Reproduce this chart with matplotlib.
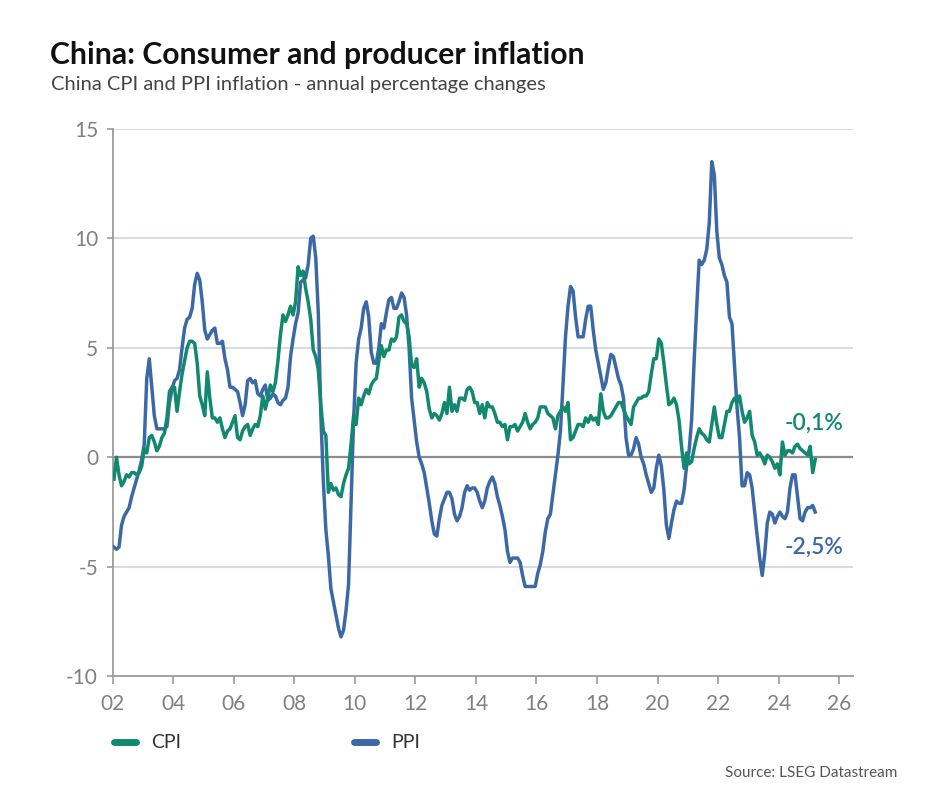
import matplotlib
matplotlib.use("Agg")
import matplotlib.pyplot as plt
from matplotlib import font_manager
from matplotlib.lines import Line2D
import numpy as np

# ---------------- data ----------------
start_year = 2002
series_names = ["CPI", "PPI"]

cpi = [
    -1.0, 0.0, -0.8, -1.3, -1.1, -0.8, -0.9, -0.7, -0.7, -0.8, -0.7, -0.4,   # 2002
    0.4, 0.2, 0.9, 1.0, 0.7, 0.3, 0.5, 0.9, 1.1, 1.8, 3.0, 3.2,              # 2003
    3.2, 2.1, 3.0, 3.8, 4.4, 5.0, 5.3, 5.3, 5.2, 4.3, 2.8, 2.4,              # 2004
    1.9, 3.9, 2.7, 1.8, 1.8, 1.6, 1.8, 1.3, 0.9, 1.2, 1.3, 1.6,              # 2005
    1.9, 0.9, 0.8, 1.2, 1.4, 1.5, 1.0, 1.3, 1.5, 1.4, 1.9, 2.8,              # 2006
    2.2, 2.7, 3.3, 3.0, 3.4, 4.4, 5.6, 6.5, 6.2, 6.5, 6.9, 6.5,              # 2007
    7.1, 8.7, 8.3, 8.5, 7.7, 7.1, 6.3, 4.9, 4.6, 4.0, 2.4, 1.2,              # 2008
    1.0, -1.6, -1.2, -1.5, -1.4, -1.7, -1.8, -1.2, -0.8, -0.5, 0.6, 1.9,     # 2009
    1.5, 2.7, 2.4, 2.8, 3.1, 2.9, 3.3, 3.5, 3.6, 4.4, 5.1, 4.6,              # 2010
    4.9, 4.9, 5.4, 5.3, 5.5, 6.4, 6.5, 6.2, 6.1, 5.5, 4.2, 4.1,              # 2011
    4.5, 3.2, 3.6, 3.4, 3.0, 2.2, 1.8, 2.0, 1.9, 1.7, 2.0, 2.5,              # 2012
    2.0, 3.2, 2.1, 2.4, 2.1, 2.7, 2.7, 2.6, 3.1, 3.2, 3.0, 2.5,              # 2013
    2.5, 2.0, 2.4, 1.8, 2.5, 2.3, 2.3, 2.0, 1.6, 1.6, 1.4, 1.5,              # 2014
    0.8, 1.4, 1.4, 1.5, 1.2, 1.4, 1.6, 2.0, 1.6, 1.3, 1.5, 1.6,              # 2015
    1.8, 2.3, 2.3, 2.3, 2.0, 1.9, 1.8, 1.3, 1.9, 2.1, 2.3, 2.1,              # 2016
    2.5, 0.8, 0.9, 1.2, 1.5, 1.5, 1.4, 1.8, 1.6, 1.9, 1.7, 1.8,              # 2017
    1.5, 2.9, 2.1, 1.8, 1.8, 1.9, 2.1, 2.3, 2.5, 2.5, 2.2, 1.9,              # 2018
    1.7, 1.5, 2.3, 2.5, 2.7, 2.7, 2.8, 2.8, 3.0, 3.8, 4.5, 4.5,              # 2019
    5.4, 5.2, 4.3, 3.3, 2.4, 2.5, 2.7, 2.4, 1.7, 0.5, -0.5, 0.2,             # 2020
    -0.3, -0.2, 0.4, 0.9, 1.3, 1.1, 1.0, 0.8, 0.7, 1.5, 2.3, 1.5,            # 2021
    0.9, 0.9, 1.5, 2.1, 2.1, 2.5, 2.7, 2.5, 2.8, 2.1, 1.6, 1.8,              # 2022
    2.1, 1.0, 0.7, 0.1, 0.2, 0.0, -0.3, 0.1, 0.0, -0.2, -0.5, -0.3,          # 2023
    -0.8, 0.7, 0.1, 0.3, 0.3, 0.2, 0.5, 0.6, 0.4, 0.3, 0.2, 0.1,             # 2024
    0.5, -0.7, -0.1,                                                         # 2025
]

ppi = [
    -4.1, -4.2, -4.1, -3.1, -2.7, -2.5, -2.3, -1.8, -1.4, -1.0, -0.6, -0.1,  # 2002
    0.6, 3.6, 4.5, 3.2, 1.9, 1.3, 1.3, 1.3, 1.3, 1.4, 2.5, 3.1,              # 2003
    3.5, 3.6, 4.0, 5.0, 5.9, 6.3, 6.4, 6.8, 7.9, 8.4, 8.1, 7.1,              # 2004
    5.8, 5.4, 5.6, 5.8, 5.9, 5.2, 5.2, 5.3, 4.5, 4.0, 3.2, 3.2,              # 2005
    3.1, 3.0, 2.5, 1.9, 2.4, 3.5, 3.6, 3.4, 3.5, 2.9, 2.8, 3.1,              # 2006
    3.3, 2.6, 2.7, 2.9, 2.8, 2.5, 2.4, 2.6, 2.7, 3.2, 4.6, 5.4,              # 2007
    6.1, 6.6, 8.0, 8.1, 8.2, 8.8, 10.0, 10.1, 9.1, 6.6, 2.0, -1.1,           # 2008
    -3.3, -4.5, -6.0, -6.6, -7.2, -7.8, -8.2, -7.9, -7.0, -5.8, -2.1, 1.7,   # 2009
    4.3, 5.4, 5.9, 6.8, 7.1, 6.4, 4.8, 4.3, 4.3, 5.0, 6.1, 5.9,              # 2010
    6.6, 7.2, 7.3, 6.8, 6.8, 7.1, 7.5, 7.3, 6.5, 5.0, 2.7, 1.7,              # 2011
    0.7, 0.0, -0.3, -0.7, -1.4, -2.1, -2.9, -3.5, -3.6, -2.8, -2.2, -1.9,    # 2012
    -1.6, -1.6, -1.9, -2.6, -2.9, -2.7, -2.3, -1.6, -1.3, -1.5, -1.4, -1.4,  # 2013
    -1.6, -2.0, -2.3, -2.0, -1.4, -1.1, -0.9, -1.2, -1.8, -2.2, -2.7, -3.3,  # 2014
    -4.3, -4.8, -4.6, -4.6, -4.6, -4.8, -5.4, -5.9, -5.9, -5.9, -5.9, -5.9,  # 2015
    -5.3, -4.9, -4.3, -3.4, -2.8, -2.6, -1.7, -0.8, 0.1, 1.2, 3.3, 5.5,      # 2016
    6.9, 7.8, 7.6, 6.4, 5.5, 5.5, 5.5, 6.3, 6.9, 6.9, 5.8, 4.9,              # 2017
    4.3, 3.7, 3.1, 3.4, 4.1, 4.7, 4.6, 4.1, 3.6, 3.3, 2.7, 0.9,              # 2018
    0.1, 0.1, 0.4, 0.9, 0.6, 0.0, -0.3, -0.8, -1.2, -1.6, -1.4, -0.5,        # 2019
    0.1, -0.4, -1.5, -3.1, -3.7, -3.0, -2.4, -2.0, -2.1, -2.1, -1.5, -0.4,   # 2020
    0.3, 1.7, 4.4, 6.8, 9.0, 8.8, 9.0, 9.5, 10.7, 13.5, 12.9, 10.3,          # 2021
    9.1, 8.8, 8.3, 8.0, 6.4, 6.1, 4.2, 2.3, 0.9, -1.3, -1.3, -0.7,           # 2022
    -0.8, -1.4, -2.5, -3.6, -4.6, -5.4, -4.4, -3.0, -2.5, -2.6, -3.0, -2.7,  # 2023
    -2.5, -2.7, -2.8, -2.5, -1.4, -0.8, -0.8, -1.8, -2.8, -2.9, -2.5, -2.3,  # 2024
    -2.3, -2.2, -2.5,                                                        # 2025
]

x_ticks = list(range(2002, 2027, 2))
x_tick_labels = ["02", "04", "06", "08", "10", "12", "14", "16", "18", "20", "22", "24", "26"]
y_ticks = [-10, -5, 0, 5, 10, 15]
y_tick_labels = ["-10", "-5", "0", "5", "10", "15"]
end_labels = ["-0,1%", "-2,5%"]

title = "China: Consumer and producer inflation"
subtitle = "China CPI and PPI inflation - annual percentage changes"
source = "Source: LSEG Datastream"

# ---------------- style ----------------
available = {f.name for f in font_manager.fontManager.ttflist}
def pick(*names):
    for n in names:
        if n in available:
            return n
    return "DejaVu Sans"

F_TITLE = pick("Lato", "Open Sans", "DejaVu Sans")
F_TEXT = pick("Lato", "Open Sans", "DejaVu Sans")
F_TICK = pick("Liberation Sans Narrow", "Lato", "Open Sans", "DejaVu Sans")

C_CPI = "#10896f"
C_PPI = "#3c69a6"
C_GRID = "#cfd5de"
C_AXIS = "#9b9b9b"
C_ZERO = "#8c8c8c"
C_TICK = "#808080"

W, H = 925, 800
fig = plt.figure(figsize=(W / 100, H / 100), dpi=100)
fig.patch.set_facecolor("white")

ax_l, ax_r, ax_t, ax_b = 112.7, 853.0, 128.8, 676.3
ax = fig.add_axes([ax_l / W, 1 - ax_b / H, (ax_r - ax_l) / W, (ax_b - ax_t) / H])

x = start_year + (np.arange(len(cpi)) + 0.5) / 12.0
x_ppi = start_year + (np.arange(len(ppi)) + 0.5) / 12.0

ax.set_xlim(2002, 2002 + (ax_r - ax_l) / 30.27)
ax.set_ylim(-10, 15)

for v in y_ticks:
    if v not in (0, -10):
        ax.axhline(v, color=C_GRID, lw=1.2, zorder=1)
ax.axhline(0, color=C_ZERO, lw=1.6, zorder=2)

ax.plot(x, cpi, color=C_CPI, lw=2.5, zorder=4, solid_joinstyle="round", label=series_names[0])
ax.plot(x_ppi, ppi, color=C_PPI, lw=2.5, zorder=3, solid_joinstyle="round", label=series_names[1])

for s in ("top", "right"):
    ax.spines[s].set_visible(False)
for s in ("left", "bottom"):
    ax.spines[s].set_color(C_AXIS)
    ax.spines[s].set_linewidth(1.3)

ax.set_xticks(x_ticks)
ax.set_xticklabels(x_tick_labels)
ax.set_yticks(y_ticks)
ax.set_yticklabels(y_tick_labels)
ax.tick_params(axis="x", direction="out", length=5.5, width=1.2, color=C_AXIS,
               pad=7, labelsize=15, labelcolor=C_TICK)
ax.tick_params(axis="y", direction="out", length=4.5, width=1.2, color=C_AXIS,
               pad=6, labelsize=15, labelcolor=C_TICK)
for lab in ax.get_xticklabels() + ax.get_yticklabels():
    lab.set_fontfamily(F_TICK)

# end labels
ax.text(2024.2, 1.55, end_labels[0], color=C_CPI, fontsize=16.5, fontfamily=F_TEXT,
        ha="left", va="center", fontweight="semibold")
ax.text(2024.2, -4.1, end_labels[1], color=C_PPI, fontsize=16.5, fontfamily=F_TEXT,
        ha="left", va="center", fontweight="semibold")

# legend
h1 = Line2D([], [], color=C_CPI, lw=5, solid_capstyle="round")
h2 = Line2D([], [], color=C_PPI, lw=5, solid_capstyle="round")
leg = fig.legend([h1, h2], series_names, loc="center left",
                 bbox_to_anchor=(114 / W, 1 - 743 / H), ncol=2, frameon=False,
                 borderpad=0, borderaxespad=0,
                 handlelength=1.15, handletextpad=0.75, columnspacing=8.9,
                 prop={"family": F_TICK, "size": 14})
for t in leg.get_texts():
    t.set_color("#333333")

# title & subtitle
t1 = fig.text(50 / W, 1 - 64 / H, title, fontsize=21, fontweight="bold",
              fontfamily=F_TITLE, color="#111111", ha="left", va="baseline")
t2 = fig.text(51 / W, 1 - 90 / H, subtitle, fontsize=13, fontfamily=F_TEXT,
              color="#444444", ha="left", va="baseline")
fig.text(897 / W, 1 - 773 / H, source, fontsize=11, fontfamily=F_TICK,
         color="#555555", ha="right", va="center")

# fit title widths
fig.canvas.draw()
r = fig.canvas.get_renderer()
for t, target in ((t1, 532), (t2, 494)):
    w = t.get_window_extent(r).width
    t.set_fontsize(t.get_fontsize() * target / w)

fig.savefig("out.png", dpi=100, facecolor="white")
